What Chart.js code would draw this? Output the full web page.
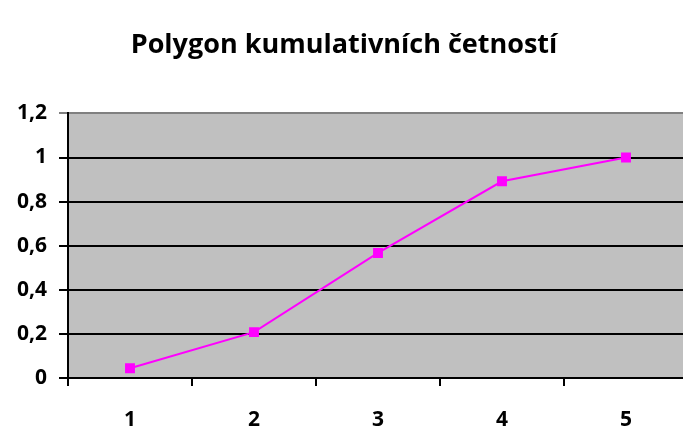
<!DOCTYPE html>
<html>
<head>
<meta charset="utf-8">
<script src="https://cdn.jsdelivr.net/npm/chart.js@4/dist/chart.umd.min.js"></script>
<style>
  html, body { margin: 0; padding: 0; background: #fff; overflow: hidden; }
  #wrap { width: 700px; height: 428px; }
</style>
</head>
<body>
<div id="wrap"><canvas id="chart" width="700" height="428"></canvas></div>
<script>
// categories and cumulative relative frequencies
const categories = ['1', '2', '3', '4', '5'];
const cumulative = [0.044, 0.208, 0.567, 0.892, 1.0];
const yTicks = [0, 0.2, 0.4, 0.6, 0.8, 1, 1.2];

const chartTitle = 'Polygon kumulativních četností';

// grey plot area like the old spreadsheet chart
const plotBackground = {
    id: 'plotBackground',
    beforeDraw(chart) {
        const { ctx, chartArea } = chart;
        ctx.save();
        ctx.fillStyle = '#C0C0C0';
        ctx.fillRect(chartArea.left, chartArea.top, chartArea.right - chartArea.left, chartArea.bottom - chartArea.top);
        ctx.restore();
    }
};

new Chart(document.getElementById('chart').getContext('2d'), {
    type: 'line',
    data: {
        labels: categories,
        datasets: [{
            data: cumulative,
            borderColor: '#FF00FF',
            backgroundColor: '#FF00FF',
            borderWidth: 2,
            pointStyle: 'rect',
            pointRadius: 7,
            pointBorderWidth: 0,
            tension: 0,
            fill: false
        }]
    },
    options: {
        responsive: false,
        animation: false,
        layout: { padding: { left: 0, right: 12, top: 0, bottom: 0 } },
        scales: {
            x: {
                offset: true,
                grid: {
                    offset: true,
                    drawOnChartArea: false,
                    drawTicks: true,
                    tickLength: 8,
                    color: '#000',
                    lineWidth: 2
                },
                border: { color: '#000', width: 2 },
                ticks: {
                    color: '#000',
                    padding: 21,
                    font: { family: 'Open Sans', size: 21, weight: 'bold' }
                },
                afterFit(scale) { scale.height = 50; }
            },
            y: {
                min: 0,
                max: 1.2,
                afterBuildTicks(scale) { scale.ticks = yTicks.map(v => ({ value: v })); },
                grid: {
                    color: ctx => (ctx.tick && ctx.tick.value === 1.2) ? '#808080' : '#000',
                    lineWidth: 2,
                    tickLength: 9,
                    drawTicks: true
                },
                border: { color: '#000', width: 2 },
                ticks: {
                    color: '#000',
                    padding: 12,
                    font: { family: 'Open Sans', size: 21, weight: 'bold' },
                    callback: v => String(Math.round(v * 10) / 10).replace('.', ',')
                },
                afterFit(scale) { scale.width = 68; }
            }
        },
        plugins: {
            legend: { display: false },
            tooltip: { enabled: false },
            title: {
                display: true,
                text: chartTitle,
                color: '#000',
                font: { family: 'Open Sans', size: 27, weight: 'bold', lineHeight: 1.2 },
                padding: { top: 29, bottom: 52 }
            }
        }
    },
    plugins: [plotBackground]
});
</script>
</body>
</html>
